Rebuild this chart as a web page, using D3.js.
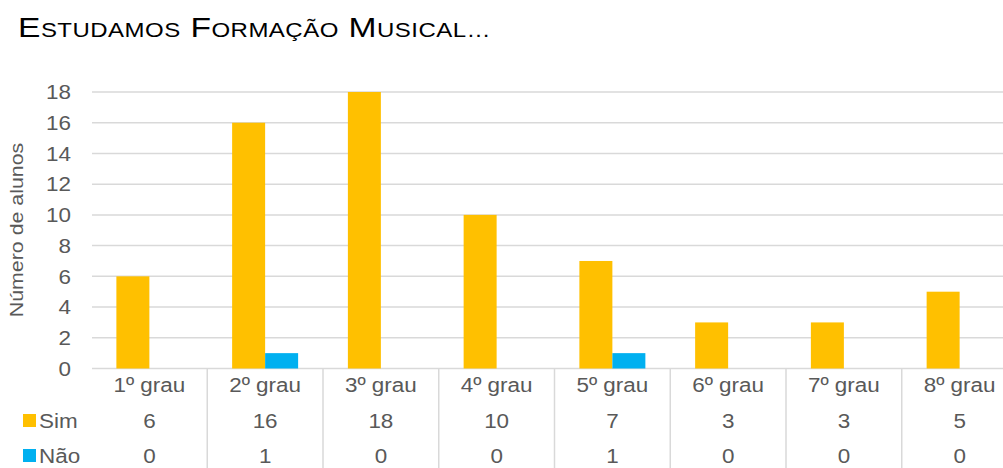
<!DOCTYPE html>
<html lang="pt">
<head>
<meta charset="UTF-8">
<title>Estudamos Formação Musical</title>
<style>
  body { margin: 0; background: #fff; }
  svg { display: block; font-family: "Liberation Sans", Arial, sans-serif; }
</style>
</head>
<body>
<div id="chart"></div>
<script src="https://d3js.org/d3.v7.min.js"></script>
<script>
const categories = ["1º grau", "2º grau", "3º grau", "4º grau", "5º grau", "6º grau", "7º grau", "8º grau"];
const series = ["Sim", "Não"];
const simValues = [6, 16, 18, 10, 7, 3, 3, 5];
const naoValues = [0, 1, 0, 0, 1, 0, 0, 0];
const yTicks = [0, 2, 4, 6, 8, 10, 12, 14, 16, 18];
const colors = ["#FFC000", "#00B0F0"];

const width = 1003, height = 468;
const textColor = "#595959", gridColor = "#D9D9D9";
const sx = 1.07; // text in the picture is a bit wider than tall

const svg = d3.select("#chart").append("svg")
  .attr("width", width).attr("height", height);

// text helper, stretched horizontally around its anchor point
function label(g, x, y, str, size, anchor) {
  return g.append("g")
    .attr("transform", `translate(${x},${y}) scale(${sx},1)`)
    .append("text")
    .attr("text-anchor", anchor || "middle")
    .attr("dominant-baseline", "central")
    .attr("font-size", size)
    .attr("fill", textColor)
    .text(str);
}

// title in small caps
const title = svg.append("g").attr("transform", `translate(18,37) scale(1.2,1)`)
  .append("text").attr("fill", "#000").attr("letter-spacing", 0.4);
"Estudamos Formação Musical…".split(" ").forEach((w, i) => {
  title.append("tspan").attr("font-size", 28).text((i ? " " : "") + w[0].toUpperCase());
  title.append("tspan").attr("font-size", 20).text(w.slice(1).toUpperCase());
});

const x = d3.scaleBand(categories, [91.5, 91.5 + 8 * 115.75]).padding(0);
const x1 = d3.scaleBand(series, [0, x.bandwidth()]).paddingInner(0).paddingOuter(0.754);
const y = d3.scaleLinear([0, 18], [368.5, 92]);

// gridlines
svg.append("g")
  .selectAll("line")
  .data(yTicks)
  .join("line")
  .attr("x1", 92).attr("x2", width)
  .attr("y1", d => y(d)).attr("y2", d => y(d))
  .attr("stroke", gridColor).attr("stroke-width", 1.5);

// y tick labels
const yl = svg.append("g");
yTicks.forEach(t => label(yl, 71, y(t), t, 21, "end"));

// y axis title
svg.append("text")
  .attr("transform", `translate(17,230) rotate(-90) scale(1.22,1)`)
  .attr("text-anchor", "middle")
  .attr("dominant-baseline", "central")
  .attr("font-size", 17.5)
  .attr("fill", textColor)
  .text("Número de alunos");

// bars
const rows = [simValues, naoValues];
svg.append("g")
  .selectAll("g")
  .data(series)
  .join("g")
  .attr("fill", (d, i) => colors[i])
  .selectAll("rect")
  .data((s, si) => categories.map((c, ci) => ({ c, s, v: rows[si][ci] })))
  .join("rect")
  .attr("x", d => x(d.c) + x1(d.s))
  .attr("width", x1.bandwidth())
  .attr("y", d => y(d.v))
  .attr("height", d => y(0) - y(d.v));

// data table
const table = svg.append("g");
table.selectAll("line")
  .data(categories.slice(1))
  .join("line")
  .attr("x1", d => x(d)).attr("x2", d => x(d))
  .attr("y1", y(0)).attr("y2", height)
  .attr("stroke", gridColor).attr("stroke-width", 1.5);

const rowY = [385, 421, 456];
categories.forEach((c, i) => {
  const cx = x(c) + x.bandwidth() / 2;
  label(table, cx, rowY[0], c, 21);
  label(table, cx, rowY[1], simValues[i], 21);
  label(table, cx, rowY[2], naoValues[i], 21);
});

// legend keys in the table
series.forEach((s, i) => {
  table.append("rect")
    .attr("x", 23).attr("y", rowY[i + 1] - 7)
    .attr("width", 13).attr("height", 13)
    .attr("fill", colors[i]);
  label(table, 39, rowY[i + 1], s, 21, "start");
});
</script>
</body>
</html>
